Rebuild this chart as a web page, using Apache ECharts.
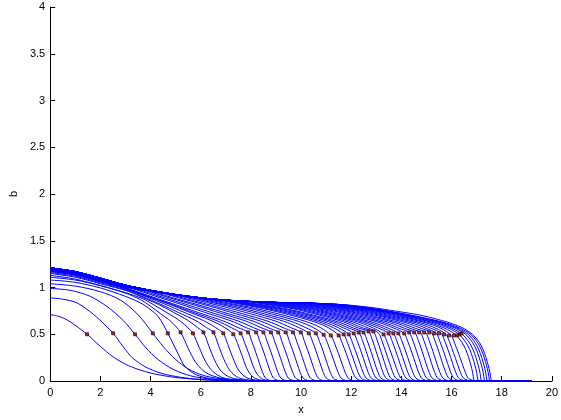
<!DOCTYPE html>
<html>
<head>
<meta charset="utf-8">
<title>b profiles</title>
<script src="https://cdn.jsdelivr.net/npm/echarts@6.0.0/dist/echarts.min.js"></script>
<style>
  html, body { margin: 0; padding: 0; background: #fff; }
  #chart { width: 561px; height: 420px; }
</style>
</head>
<body>
<div id="chart"></div>
<script>
// profiles b(x), one array of [x, b] per time step
var p01 = [[0,0.71],[0.3,0.695],[0.63,0.66],[1.03,0.59],[1.47,0.5],[2.0,0.37],[2.5,0.26],[3.0,0.18],[3.5,0.125],[4.0,0.085],[4.5,0.058],[5.0,0.038],[5.6,0.022],[6.3,0.01],[7.2,0.003],[8,0],[19.2,0]];
var p02 = [[0,0.89],[0.5,0.875],[1.03,0.84],[1.5,0.76],[1.95,0.66],[2.51,0.51],[2.9,0.37],[3.27,0.25],[3.8,0.15],[4.46,0.08],[5.2,0.04],[6,0.017],[7,0.005],[8,0],[19.2,0]];
var p03 = [[0,0.99],[0.8,0.97],[1.6,0.905],[2.3,0.79],[2.9,0.65],[3.38,0.5],[3.8,0.36],[4.3,0.23],[4.9,0.125],[5.6,0.055],[6.4,0.02],[7.3,0.005],[8.2,0],[19.2,0]];
var p04 = [[0,1.04],[1,1.015],[2,0.955],[2.8,0.865],[3.5,0.71],[4.09,0.51],[4.5,0.37],[5.0,0.23],[5.5,0.13],[6.1,0.06],[6.9,0.02],[7.8,0.005],[8.7,0],[19.2,0]];
var p05 = [[0,1.08],[1,1.055],[2,0.995],[3,0.905],[3.7,0.82],[4.3,0.69],[4.69,0.51],[5.1,0.29],[5.36,0.16],[5.8,0.07],[6.4,0.025],[7.2,0.007],[8,0],[19.2,0]];
var p06 = [[0,1.11],[1,1.08],[2,1.02],[3,0.94],[3.6,0.87],[4.0,0.8],[4.4,0.72],[4.8,0.64],[5.2,0.52],[5.5,0.35],[5.8,0.2],[6.2,0.09],[6.8,0.03],[7.6,0.008],[8.5,0],[19.2,0]];
var p07 = [[0,1.13],[1,1.09],[2,1.02],[3,0.945],[3.69,0.88],[4.19,0.805],[4.69,0.725],[5.19,0.64],[5.49,0.57],[5.69,0.51],[5.94,0.36],[6.19,0.21],[6.49,0.1],[6.89,0.035],[7.5,0.008],[8.3,0],[19.2,0]];
var p08 = [[0,1.15],[1,1.11],[2,1.04],[3.11,0.96],[3.71,0.89],[4.31,0.82],[4.91,0.735],[5.51,0.645],[5.87,0.572],[6.11,0.52],[6.33,0.37],[6.56,0.22],[6.83,0.1],[7.21,0.035],[7.81,0.008],[8.5,0],[19.2,0]];
var p09 = [[0,1.16],[1,1.12],[2,1.05],[3.01,0.975],[3.71,0.9],[4.41,0.82],[5.11,0.733],[5.81,0.645],[6.23,0.571],[6.51,0.52],[6.71,0.38],[6.93,0.23],[7.17,0.11],[7.51,0.035],[8.01,0.008],[8.7,0],[19.2,0]];
var p10 = [[0,1.17],[1,1.13],[2,1.06],[3,0.985],[3.78,0.906],[4.56,0.824],[5.34,0.734],[6.12,0.645],[6.59,0.572],[6.9,0.51],[7.08,0.39],[7.28,0.25],[7.5,0.12],[7.8,0.04],[8.2,0.01],[8.9,0],[19.2,0]];
var p11 = [[0,1.175],[1,1.135],[2,1.065],[3,0.99],[3.86,0.906],[4.72,0.824],[5.58,0.733],[6.44,0.644],[6.96,0.571],[7.3,0.5],[7.47,0.4],[7.65,0.27],[7.83,0.14],[8.05,0.05],[8.35,0.012],[8.9,0],[19.2,0]];
var p12 = [[0,1.18],[1,1.14],[2,1.07],[2.94,1.0],[3.87,0.91],[4.8,0.824],[5.73,0.732],[6.66,0.643],[7.22,0.571],[7.59,0.51],[7.75,0.41],[7.92,0.29],[8.09,0.16],[8.27,0.065],[8.49,0.018],[8.9,0],[19.2,0]];
var p13 = [[0,1.185],[1,1.145],[2,1.075],[2.89,1.008],[3.89,0.916],[4.89,0.826],[5.89,0.733],[6.89,0.643],[7.49,0.571],[7.89,0.52],[8.04,0.42],[8.19,0.31],[8.34,0.19],[8.47,0.09],[8.59,0.03],[8.79,0.005],[9.2,0],[19.2,0]];
var p14 = [[0,1.19],[1,1.15],[2,1.08],[3.21,0.993],[4.21,0.906],[5.21,0.82],[6.21,0.73],[7.21,0.643],[7.81,0.571],[8.21,0.52],[8.36,0.42],[8.51,0.31],[8.66,0.19],[8.79,0.09],[8.91,0.03],[9.11,0.005],[9.5,0],[19.2,0]];
var p15 = [[0,1.19],[1,1.15],[2,1.08],[3,1.005],[3.5,0.978],[4.5,0.895],[5.5,0.812],[6.5,0.726],[7.5,0.641],[8.1,0.571],[8.5,0.52],[8.65,0.42],[8.8,0.31],[8.95,0.19],[9.08,0.09],[9.2,0.03],[9.4,0.005],[9.8,0],[19.2,0]];
var p16 = [[0,1.195],[1,1.155],[2,1.085],[3,1.01],[3.8,0.966],[4.8,0.886],[5.8,0.808],[6.8,0.724],[7.8,0.641],[8.4,0.571],[8.8,0.52],[8.95,0.42],[9.1,0.31],[9.25,0.19],[9.38,0.09],[9.5,0.03],[9.7,0.005],[10.1,0],[19.2,0]];
var p17 = [[0,1.195],[1,1.155],[2,1.085],[3,1.01],[4.09,0.951],[5.09,0.875],[6.09,0.8],[7.09,0.72],[8.09,0.64],[8.69,0.57],[9.09,0.52],[9.24,0.42],[9.39,0.31],[9.54,0.19],[9.67,0.09],[9.79,0.03],[9.99,0.005],[10.4,0],[19.2,0]];
var p18 = [[0,1.2],[1,1.16],[2,1.09],[3,1.015],[4.39,0.943],[5.39,0.87],[6.39,0.798],[7.39,0.72],[8.39,0.64],[8.99,0.571],[9.39,0.52],[9.54,0.42],[9.69,0.31],[9.84,0.19],[9.97,0.09],[10.09,0.03],[10.29,0.005],[10.7,0],[19.2,0]];
var p19 = [[0,1.2],[1,1.16],[2,1.09],[3,1.015],[4,0.96],[4.68,0.929],[5.68,0.861],[6.68,0.792],[7.68,0.718],[8.68,0.639],[9.28,0.571],[9.68,0.52],[9.83,0.42],[9.98,0.31],[10.13,0.19],[10.26,0.09],[10.38,0.03],[10.58,0.005],[11,0],[19.2,0]];
var p20 = [[0,1.205],[1,1.165],[2,1.095],[3,1.02],[4,0.965],[4.99,0.92],[5.99,0.855],[6.99,0.79],[7.99,0.718],[8.99,0.64],[9.59,0.571],[9.99,0.52],[10.14,0.42],[10.29,0.31],[10.44,0.19],[10.57,0.09],[10.69,0.03],[10.89,0.005],[11.3,0],[19.2,0]];
var p21 = [[0,1.205],[1,1.165],[2,1.095],[3,1.02],[4,0.965],[5.31,0.909],[6.31,0.848],[7.31,0.786],[8.31,0.716],[9.31,0.639],[9.91,0.571],[10.31,0.51],[10.46,0.42],[10.61,0.31],[10.76,0.19],[10.89,0.09],[11.01,0.03],[11.21,0.005],[11.6,0],[19.2,0]];
var p22 = [[0,1.205],[1,1.165],[2,1.095],[3,1.02],[4,0.965],[5,0.92],[5.59,0.9],[6.59,0.841],[7.59,0.783],[8.59,0.714],[9.59,0.639],[10.19,0.57],[10.59,0.51],[10.74,0.42],[10.89,0.31],[11.04,0.19],[11.17,0.09],[11.29,0.03],[11.49,0.005],[11.9,0],[19.2,0]];
var p23 = [[0,1.205],[1,1.165],[2,1.095],[3,1.02],[4,0.965],[5,0.92],[5.9,0.888],[6.9,0.835],[7.9,0.78],[8.9,0.712],[9.9,0.638],[10.5,0.57],[10.9,0.495],[11.05,0.41],[11.2,0.3],[11.35,0.185],[11.48,0.09],[11.6,0.03],[11.8,0.005],[12.2,0],[19.2,0]];
var p24 = [[0,1.205],[1,1.165],[2,1.095],[3,1.02],[4,0.965],[5,0.92],[6.19,0.88],[7.19,0.829],[8.19,0.776],[9.19,0.711],[10.19,0.637],[10.79,0.569],[11.19,0.487],[11.34,0.4],[11.49,0.295],[11.64,0.18],[11.77,0.085],[11.89,0.028],[12.09,0.005],[12.5,0],[19.2,0]];
var p25 = [[0,1.205],[1,1.165],[2,1.095],[3,1.02],[4,0.965],[5,0.92],[6,0.885],[6.5,0.873],[7.5,0.826],[8.5,0.774],[9.5,0.71],[10.5,0.636],[11.1,0.569],[11.5,0.487],[11.65,0.4],[11.8,0.295],[11.95,0.18],[12.08,0.085],[12.2,0.028],[12.4,0.005],[12.8,0],[19.2,0]];
var p26 = [[0,1.205],[1,1.165],[2,1.095],[3,1.02],[4,0.965],[5,0.92],[6,0.885],[6.7,0.868],[7.7,0.823],[8.7,0.772],[9.7,0.71],[10.7,0.635],[11.3,0.568],[11.7,0.498],[11.85,0.41],[12,0.3],[12.15,0.185],[12.28,0.088],[12.4,0.03],[12.6,0.005],[13,0],[19.2,0]];
var p27 = [[0,1.205],[1,1.165],[2,1.095],[3,1.02],[4,0.965],[5,0.92],[6,0.885],[6.9,0.863],[7.9,0.82],[8.9,0.771],[9.9,0.709],[10.9,0.634],[11.5,0.568],[11.9,0.498],[12.05,0.41],[12.2,0.3],[12.35,0.185],[12.48,0.088],[12.6,0.03],[12.8,0.005],[13.2,0],[19.2,0]];
var p28 = [[0,1.205],[1,1.165],[2,1.095],[3,1.02],[4,0.965],[5,0.92],[6,0.885],[7.1,0.859],[8.1,0.817],[9.1,0.77],[10.1,0.708],[11.1,0.634],[11.7,0.567],[12.1,0.509],[12.25,0.42],[12.4,0.31],[12.55,0.19],[12.68,0.09],[12.8,0.03],[13,0.005],[13.4,0],[19.2,0]];
var p29 = [[0,1.205],[1,1.165],[2,1.095],[3,1.02],[4,0.965],[5,0.92],[6,0.885],[7.3,0.855],[8.3,0.815],[9.3,0.769],[10.3,0.707],[11.3,0.632],[11.9,0.566],[12.3,0.519],[12.45,0.43],[12.6,0.315],[12.75,0.19],[12.88,0.09],[13,0.03],[13.2,0.005],[13.6,0],[19.2,0]];
var p30 = [[0,1.205],[1,1.165],[2,1.095],[3,1.02],[4,0.965],[5,0.92],[6,0.885],[7.49,0.852],[8.49,0.814],[9.49,0.768],[10.49,0.705],[11.49,0.631],[12.09,0.566],[12.49,0.519],[12.64,0.43],[12.79,0.315],[12.94,0.19],[13.07,0.09],[13.19,0.03],[13.39,0.005],[13.8,0],[19.2,0]];
var p31 = [[0,1.21],[1,1.17],[2,1.1],[3,1.025],[4,0.97],[5,0.925],[6,0.89],[7,0.865],[7.69,0.855],[8.69,0.816],[9.69,0.772],[10.69,0.707],[11.69,0.632],[12.29,0.566],[12.69,0.53],[12.84,0.44],[12.99,0.32],[13.14,0.195],[13.27,0.09],[13.39,0.03],[13.59,0.005],[14,0],[19.2,0]];
var p32 = [[0,1.21],[1,1.17],[2,1.1],[3,1.025],[4,0.97],[5,0.925],[6,0.89],[7,0.865],[7.88,0.852],[8.88,0.815],[9.88,0.771],[10.88,0.706],[11.88,0.631],[12.48,0.566],[12.88,0.53],[13.03,0.44],[13.18,0.32],[13.33,0.195],[13.46,0.09],[13.58,0.03],[13.78,0.005],[14.2,0],[19.2,0]];
var p33 = [[0,1.21],[1,1.17],[2,1.1],[3,1.025],[4,0.97],[5,0.925],[6,0.89],[7,0.865],[8.08,0.849],[9.08,0.814],[10.08,0.769],[11.08,0.705],[12.08,0.63],[12.68,0.566],[13.08,0.515],[13.23,0.425],[13.38,0.31],[13.53,0.19],[13.66,0.09],[13.78,0.03],[13.98,0.005],[14.4,0],[19.2,0]];
var p34 = [[0,1.21],[1,1.17],[2,1.1],[3,1.025],[4,0.97],[5,0.925],[6,0.89],[7,0.865],[8.29,0.847],[9.29,0.813],[10.29,0.768],[11.29,0.703],[12.29,0.629],[12.89,0.565],[13.29,0.498],[13.44,0.41],[13.59,0.3],[13.74,0.185],[13.87,0.088],[13.99,0.03],[14.19,0.005],[14.6,0],[19.2,0]];
var p35 = [[0,1.21],[1,1.17],[2,1.1],[3,1.025],[4,0.97],[5,0.925],[6,0.89],[7,0.865],[8.49,0.845],[9.49,0.811],[10.49,0.766],[11.49,0.7],[12.49,0.628],[13.09,0.565],[13.49,0.509],[13.64,0.42],[13.79,0.31],[13.94,0.19],[14.07,0.09],[14.19,0.03],[14.39,0.005],[14.8,0],[19.2,0]];
var p36 = [[0,1.21],[1,1.17],[2,1.1],[3,1.025],[4,0.97],[5,0.925],[6,0.89],[7,0.865],[8,0.85],[8.68,0.843],[9.68,0.811],[10.68,0.764],[11.68,0.699],[12.68,0.627],[13.28,0.565],[13.68,0.509],[13.83,0.42],[13.98,0.31],[14.13,0.19],[14.26,0.09],[14.38,0.03],[14.58,0.005],[15,0],[19.2,0]];
var p37 = [[0,1.21],[1,1.17],[2,1.1],[3,1.025],[4,0.97],[5,0.925],[6,0.89],[7,0.865],[8,0.85],[8.88,0.841],[9.88,0.81],[10.88,0.763],[11.88,0.697],[12.88,0.626],[13.48,0.564],[13.88,0.509],[14.03,0.42],[14.18,0.31],[14.33,0.19],[14.46,0.09],[14.58,0.03],[14.78,0.005],[15.2,0],[19.2,0]];
var p38 = [[0,1.21],[1,1.17],[2,1.1],[3,1.025],[4,0.97],[5,0.925],[6,0.89],[7,0.865],[8,0.85],[9.11,0.84],[10.11,0.808],[11.11,0.761],[12.11,0.695],[13.11,0.626],[13.71,0.564],[14.11,0.509],[14.26,0.42],[14.41,0.31],[14.56,0.19],[14.69,0.09],[14.81,0.03],[15.01,0.005],[15.4,0],[19.2,0]];
var p39 = [[0,1.21],[1,1.17],[2,1.1],[3,1.025],[4,0.97],[5,0.925],[6,0.89],[7,0.865],[8,0.85],[9.31,0.838],[10.31,0.806],[11.31,0.758],[12.31,0.694],[13.31,0.625],[13.91,0.563],[14.31,0.519],[14.46,0.43],[14.61,0.315],[14.76,0.19],[14.89,0.09],[15.01,0.03],[15.21,0.005],[15.6,0],[19.2,0]];
var p40 = [[0,1.21],[1,1.17],[2,1.1],[3,1.025],[4,0.97],[5,0.925],[6,0.89],[7,0.865],[8,0.85],[9,0.84],[9.53,0.837],[10.53,0.804],[11.53,0.756],[12.53,0.693],[13.53,0.624],[14.13,0.563],[14.53,0.519],[14.68,0.43],[14.83,0.315],[14.98,0.19],[15.11,0.09],[15.23,0.03],[15.43,0.005],[15.8,0],[19.2,0]];
var p41 = [[0,1.21],[1,1.17],[2,1.1],[3,1.025],[4,0.97],[5,0.925],[6,0.89],[7,0.865],[8,0.85],[9,0.84],[9.75,0.836],[10.75,0.803],[11.75,0.753],[12.75,0.692],[13.75,0.623],[14.35,0.563],[14.75,0.519],[14.9,0.43],[15.05,0.315],[15.2,0.19],[15.33,0.09],[15.45,0.03],[15.65,0.005],[16,0],[19.2,0]];
var p42 = [[0,1.21],[1,1.17],[2,1.1],[3,1.025],[4,0.97],[5,0.925],[6,0.89],[7,0.865],[8,0.85],[9,0.84],[9.96,0.835],[10.96,0.8],[11.96,0.75],[12.96,0.69],[13.96,0.622],[14.56,0.563],[14.96,0.519],[15.11,0.43],[15.26,0.315],[15.41,0.19],[15.54,0.09],[15.66,0.03],[15.86,0.005],[16.2,0],[19.2,0]];
var p43 = [[0,1.21],[1,1.17],[2,1.1],[3,1.025],[4,0.97],[5,0.925],[6,0.89],[7,0.865],[8,0.85],[9,0.84],[10.19,0.833],[11.19,0.797],[12.19,0.748],[13.19,0.689],[14.19,0.622],[14.79,0.563],[15.19,0.519],[15.34,0.43],[15.49,0.315],[15.64,0.19],[15.77,0.09],[15.89,0.03],[16.09,0.005],[16.4,0],[19.2,0]];
var p44 = [[0,1.21],[1,1.17],[2,1.1],[3,1.025],[4,0.97],[5,0.925],[6,0.89],[7,0.865],[8,0.85],[9,0.84],[10.39,0.831],[11.39,0.794],[12.39,0.747],[13.39,0.687],[14.39,0.622],[14.99,0.563],[15.39,0.509],[15.54,0.42],[15.69,0.31],[15.84,0.19],[15.97,0.09],[16.09,0.03],[16.29,0.005],[16.6,0],[19.2,0]];
var p45 = [[0,1.21],[1,1.17],[2,1.1],[3,1.025],[4,0.97],[5,0.925],[6,0.89],[7,0.865],[8,0.85],[9,0.84],[10,0.835],[10.59,0.829],[11.59,0.792],[12.59,0.745],[13.59,0.686],[14.59,0.622],[15.19,0.563],[15.59,0.509],[15.74,0.42],[15.89,0.31],[16.04,0.19],[16.17,0.09],[16.29,0.03],[16.49,0.005],[16.8,0],[19.2,0]];
var p46 = [[0,1.21],[1,1.17],[2,1.1],[3,1.025],[4,0.97],[5,0.925],[6,0.89],[7,0.865],[8,0.85],[9,0.84],[10,0.835],[10.78,0.827],[11.78,0.789],[12.78,0.744],[13.78,0.685],[14.78,0.622],[15.38,0.563],[15.78,0.498],[15.93,0.41],[16.08,0.3],[16.23,0.185],[16.36,0.088],[16.48,0.03],[16.68,0.005],[17,0],[19.2,0]];
var p47 = [[0,1.21],[1,1.17],[2,1.1],[3,1.025],[4,0.97],[5,0.925],[6,0.89],[7,0.865],[8,0.85],[9,0.84],[10,0.835],[10.98,0.825],[11.98,0.786],[12.98,0.742],[13.98,0.684],[14.98,0.622],[15.58,0.563],[15.98,0.49],[16.13,0.4],[16.28,0.295],[16.43,0.18],[16.56,0.085],[16.68,0.028],[16.88,0.005],[17.2,0],[19.2,0]];
var p48 = [[0,1.21],[1,1.17],[2,1.1],[3,1.025],[4,0.97],[5,0.925],[6,0.89],[7,0.865],[8,0.85],[9,0.84],[10,0.835],[11.14,0.823],[12.14,0.785],[13.14,0.741],[14.14,0.684],[15.14,0.622],[15.74,0.563],[16.14,0.5],[16.28,0.46],[16.42,0.41],[16.56,0.34],[16.68,0.253],[16.77,0.17],[16.84,0.093],[16.89,0.01],[16.92,0],[19.2,0]];
var p49 = [[0,1.21],[1,1.17],[2,1.1],[3,1.025],[4,0.97],[5,0.925],[6,0.89],[7,0.865],[8,0.85],[9,0.84],[10,0.835],[11.3,0.82],[12.3,0.783],[13.3,0.74],[14.3,0.684],[15.3,0.622],[15.9,0.563],[16.3,0.5],[16.44,0.46],[16.58,0.41],[16.72,0.34],[16.84,0.253],[16.93,0.17],[17,0.093],[17.05,0.01],[17.08,0],[19.2,0]];
var p50 = [[0,1.21],[1,1.17],[2,1.1],[3,1.025],[4,0.97],[5,0.925],[6,0.89],[7,0.865],[8,0.85],[9,0.84],[10,0.835],[11.43,0.819],[12.43,0.782],[13.43,0.739],[14.43,0.684],[15.43,0.622],[16.03,0.563],[16.43,0.5],[16.57,0.46],[16.71,0.41],[16.85,0.34],[16.97,0.253],[17.06,0.17],[17.13,0.093],[17.18,0.01],[17.21,0],[19.2,0]];
var p51 = [[0,1.21],[1,1.17],[2,1.1],[3,1.025],[4,0.97],[5,0.925],[6,0.89],[7,0.865],[8,0.85],[9,0.84],[10,0.835],[11,0.825],[11.56,0.817],[12.56,0.78],[13.56,0.737],[14.56,0.684],[15.56,0.622],[16.16,0.563],[16.56,0.5],[16.7,0.46],[16.84,0.41],[16.98,0.34],[17.1,0.253],[17.19,0.17],[17.26,0.093],[17.31,0.01],[17.34,0],[19.2,0]];
var p52 = [[0,1.21],[1,1.17],[2,1.1],[3,1.025],[4,0.97],[5,0.925],[6,0.89],[7,0.865],[8,0.85],[9,0.84],[10,0.835],[11,0.825],[11.66,0.815],[12.66,0.78],[13.66,0.736],[14.66,0.684],[15.66,0.622],[16.26,0.563],[16.66,0.5],[16.8,0.46],[16.94,0.41],[17.08,0.34],[17.2,0.253],[17.29,0.17],[17.36,0.093],[17.41,0.01],[17.44,0],[19.2,0]];
var p53 = [[0,1.21],[1,1.17],[2,1.1],[3,1.025],[4,0.97],[5,0.925],[6,0.89],[7,0.865],[8,0.85],[9,0.84],[10,0.835],[11,0.825],[11.76,0.814],[12.76,0.78],[13.76,0.736],[14.76,0.684],[15.76,0.622],[16.36,0.563],[16.76,0.5],[16.9,0.46],[17.04,0.41],[17.18,0.34],[17.3,0.253],[17.39,0.17],[17.46,0.093],[17.51,0.01],[17.54,0],[19.2,0]];
var p54 = [[0,1.21],[1,1.17],[2,1.1],[3,1.025],[4,0.97],[5,0.925],[6,0.89],[7,0.865],[8,0.85],[9,0.84],[10,0.835],[11,0.825],[11.83,0.813],[12.83,0.785],[13.83,0.745],[14.83,0.7],[15.83,0.63],[16.43,0.57],[16.83,0.5],[16.97,0.46],[17.11,0.413],[17.25,0.34],[17.37,0.253],[17.46,0.17],[17.53,0.093],[17.58,0.01],[17.61,0],[19.2,0]];

// front markers (x, b)
var frontX = [1.47,2.51,3.38,4.09,4.69,5.20,5.69,6.11,6.51,6.90,7.30,7.59,7.89,8.21,8.50,8.80,9.09,9.39,9.68,9.99,
	10.31,10.59,10.90,11.19,11.50,11.70,11.90,12.10,12.30,12.49,12.69,12.88,13.29,13.49,13.68,13.88,14.11,14.31,14.51,14.71,
	14.91,15.11,15.31,15.50,15.70,15.90,16.10,16.22,16.32,16.40];
var frontB = [0.50,0.51,0.50,0.51,0.51,0.52,0.51,0.52,0.52,0.51,0.50,0.51,0.52,0.52,0.52,0.52,0.52,0.52,0.52,0.52,
	0.51,0.51,0.495,0.487,0.487,0.498,0.498,0.509,0.519,0.519,0.53,0.53,0.498,0.509,0.509,0.509,0.509,0.519,0.519,0.519,
	0.519,0.519,0.509,0.509,0.498,0.487,0.487,0.487,0.498,0.509];

var profiles = [p01,p02,p03,p04,p05,p06,p07,p08,p09,p10,p11,p12,p13,p14,p15,p16,p17,p18,p19,p20,
	p21,p22,p23,p24,p25,p26,p27,p28,p29,p30,p31,p32,p33,p34,p35,p36,p37,p38,p39,p40,
	p41,p42,p43,p44,p45,p46,p47,p48,p49,p50,p51,p52,p53,p54];

var font = "'Liberation Sans', Arial, sans-serif";

var buildSeries = function(){
	var list = [];
	for(var i = 0; i < profiles.length; i++){
		list.push({
			type: 'line',
			data: profiles[i],
			showSymbol: false,
			symbol: 'none',
			smooth: 0.3,
			silent: true,
			lineStyle: { color: '#0000ff', width: 1 },
			z: 2
		});
	}
	var marks = [];
	for(var j = 0; j < frontX.length; j++){
		marks.push([frontX[j], frontB[j]]);
	}
	// small red squares with a black edge
	list.push({
		type: 'scatter',
		data: marks,
		symbol: 'rect',
		symbolSize: 3,
		silent: true,
		itemStyle: { color: '#c00000', borderColor: '#000000', borderWidth: 0.8 },
		z: 5
	});
	return list;
};

var axisCommon = function(){
	return {
		type: 'value',
		nameLocation: 'middle',
		nameTextStyle: { color: '#000', fontSize: 11, fontFamily: font },
		axisLine: { show: true, lineStyle: { color: '#000', width: 1 } },
		axisTick: { show: true, inside: true, length: 5, lineStyle: { color: '#000' } },
		axisLabel: { color: '#000', fontSize: 11, fontFamily: font, margin: 5 },
		splitLine: { show: false }
	};
};

var xAxis = axisCommon();
xAxis.min = 0; xAxis.max = 20; xAxis.interval = 2;
xAxis.name = 'x'; xAxis.nameGap = 23;
xAxis.axisLabel.margin = 6;

var yAxis = axisCommon();
yAxis.min = 0; yAxis.max = 4; yAxis.interval = 0.5;
yAxis.name = 'b'; yAxis.nameGap = 31;

var chart = echarts.init(document.getElementById('chart'), null, { renderer: 'canvas' });
chart.setOption({
	animation: false,
	backgroundColor: '#ffffff',
	grid: { left: 48, right: 8, top: 7, bottom: 38 },
	xAxis: xAxis,
	yAxis: yAxis,
	series: buildSeries()
});
</script>
</body>
</html>
